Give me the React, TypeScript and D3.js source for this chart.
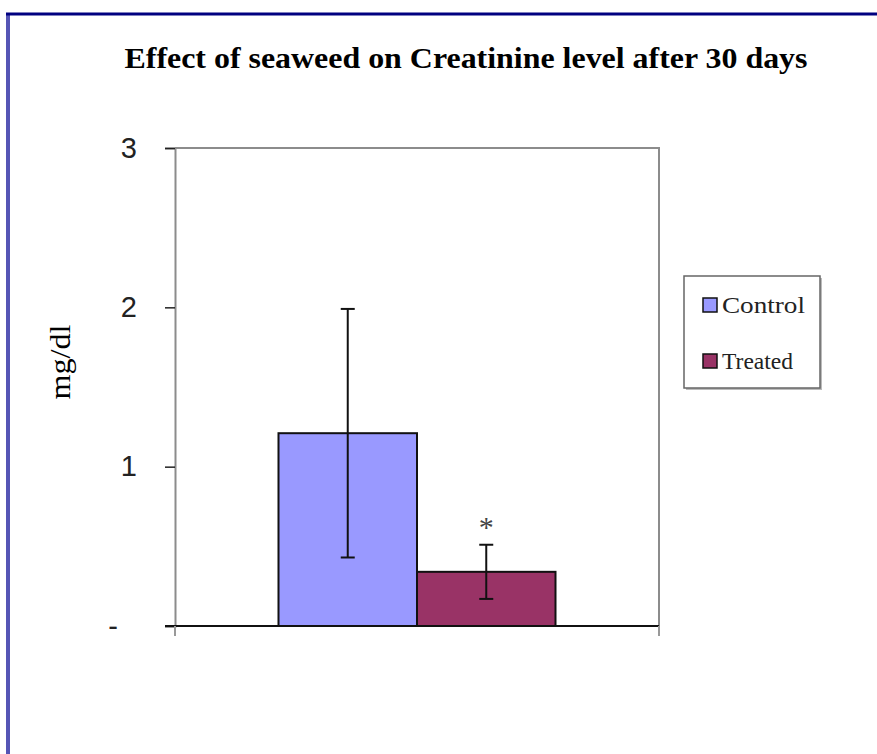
import { useRef, useEffect } from 'react';
import * as d3 from 'd3';

const groups = ['Control', 'Treated'];
const means = [1.21, 0.34];
const errors = [0.78, 0.17];
const colors = ['#9999ff', '#993366'];
const yTicks = [0, 1, 2, 3];
const yTickLabels = ['-', '1', '2', '3'];
const marks = ['', '*'];

const App = () => {
  const svgRef = useRef<SVGSVGElement>(null);

  useEffect(() => {
    if (!svgRef.current) return;
    const width = 877;
    const height = 754;
    const plot = { left: 175, right: 659, top: 148, bottom: 626 };
    const serif = '"Liberation Serif", "Times New Roman", serif';

    const svg = d3.select(svgRef.current).attr('width', width).attr('height', height);
    svg.selectAll('*').remove();

    svg.append('rect').attr('width', width).attr('height', height).attr('fill', '#fff');

    // frame
    svg.append('line')
      .attr('x1', 8).attr('x2', 8).attr('y1', 13).attr('y2', height)
      .attr('stroke', '#5555b5').attr('stroke-width', 4);
    svg.append('line')
      .attr('x1', 6).attr('x2', width).attr('y1', 14).attr('y2', 14)
      .attr('stroke', '#000080').attr('stroke-width', 3);

    svg.append('text')
      .attr('x', 466).attr('y', 68)
      .attr('text-anchor', 'middle')
      .attr('font-family', serif)
      .attr('font-weight', 'bold')
      .attr('font-size', 29)
      .attr('textLength', 683)
      .attr('lengthAdjust', 'spacingAndGlyphs')
      .text('Effect of seaweed on Creatinine level after 30 days');

    const y = d3.scaleLinear().domain([0, 3]).range([plot.bottom, plot.top]);
    const x0 = d3.scaleBand().domain(['g']).range([plot.left, plot.right]).padding(0.272);
    const x1 = d3.scaleBand().domain(groups).range([x0('g')!, x0('g')! + x0.bandwidth()]);

    // plot border (top/right gray)
    svg.append('path')
      .attr('d', `M${plot.left},${plot.top}H${plot.right}V${plot.bottom}`)
      .attr('fill', 'none').attr('stroke', '#8c8c8c').attr('stroke-width', 2);

    // y axis
    const yAxis = svg.append('g')
      .attr('transform', `translate(${plot.left},0)`)
      .call(d3.axisLeft(y).tickValues(yTicks).tickSize(10).tickFormat((d, i) => yTickLabels[i]));
    yAxis.select('.domain').attr('stroke', '#8c8c8c').attr('stroke-width', 2);
    yAxis.selectAll('.tick line').attr('stroke', '#222').attr('stroke-width', 1.5);
    yAxis.selectAll('.tick text')
      .attr('x', (d: any) => (d === 0 ? -57 : -38))
      .attr('font-family', '"Liberation Sans", Arial, sans-serif')
      .attr('font-size', 29)
      .attr('fill', '#222');

    // bars
    svg.selectAll('rect.bar')
      .data(groups)
      .join('rect')
      .attr('class', 'bar')
      .attr('x', d => x1(d)!)
      .attr('y', (d, i) => y(means[i]))
      .attr('width', x1.bandwidth())
      .attr('height', (d, i) => y(0) - y(means[i]))
      .attr('fill', (d, i) => colors[i])
      .attr('stroke', '#111').attr('stroke-width', 2);

    // x axis (bottom)
    svg.append('line')
      .attr('x1', plot.left - 10).attr('x2', plot.right).attr('y1', plot.bottom).attr('y2', plot.bottom)
      .attr('stroke', '#111').attr('stroke-width', 2);
    [plot.left, plot.right].forEach(px => {
      svg.append('line')
        .attr('x1', px).attr('x2', px).attr('y1', plot.bottom).attr('y2', plot.bottom + 10)
        .attr('stroke', '#999').attr('stroke-width', 2);
    });

    // error bars
    groups.forEach((g, i) => {
      const cx = x1(g)! + x1.bandwidth() / 2;
      const eg = svg.append('g').attr('stroke', '#111').attr('stroke-width', 2);
      eg.append('line').attr('x1', cx).attr('x2', cx)
        .attr('y1', y(means[i] + errors[i])).attr('y2', y(means[i] - errors[i]));
      [means[i] + errors[i], means[i] - errors[i]].forEach(v => {
        eg.append('line').attr('x1', cx - 7).attr('x2', cx + 7).attr('y1', y(v)).attr('y2', y(v));
      });
      if (marks[i]) {
        svg.append('text')
          .attr('x', cx).attr('y', y(means[i] + errors[i]) - 8)
          .attr('text-anchor', 'middle')
          .attr('font-family', serif)
          .attr('font-size', 30)
          .attr('fill', '#444')
          .text(marks[i]);
      }
    });

    // y label
    svg.append('text')
      .attr('transform', 'translate(70,362) rotate(-90)')
      .attr('text-anchor', 'middle')
      .attr('font-family', serif)
      .attr('font-size', 29)
      .attr('textLength', 75)
      .attr('lengthAdjust', 'spacingAndGlyphs')
      .text('mg/dl');

    // legend
    const lg = svg.append('g').attr('transform', 'translate(684,276)');
    lg.append('rect').attr('x', 2).attr('y', 2).attr('width', 136).attr('height', 112).attr('fill', '#bbb');
    lg.append('rect').attr('width', 136).attr('height', 112)
      .attr('fill', '#fff').attr('stroke', '#666').attr('stroke-width', 1.5);
    groups.forEach((g, i) => {
      const row = lg.append('g').attr('transform', `translate(0,${22 + i * 56})`);
      row.append('rect').attr('x', 19).attr('y', 0).attr('width', 14).attr('height', 14)
        .attr('fill', colors[i]).attr('stroke', '#111').attr('stroke-width', 1.5);
      row.append('text').attr('x', 38).attr('y', 15)
        .attr('font-family', serif)
        .attr('font-size', 24)
        .attr('fill', '#222')
        .attr('textLength', i === 0 ? 83 : 71)
        .attr('lengthAdjust', 'spacingAndGlyphs')
        .text(g);
    });
  }, []);

  return (
    <div>
      <style>{`body{margin:0}`}</style>
      <svg ref={svgRef} style={{ display: 'block' }} />
    </div>
  );
};

export default App;
